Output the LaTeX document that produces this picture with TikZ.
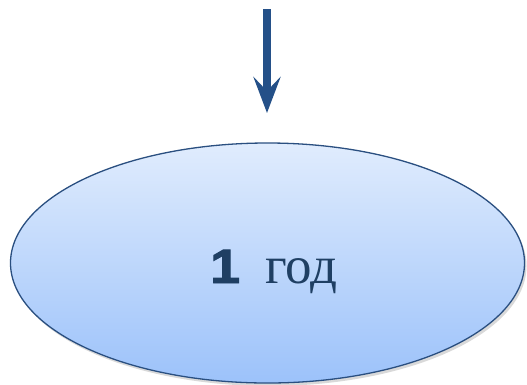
\documentclass[tikz,border=0pt]{standalone}
\usepackage{fontspec}
\setmainfont{Liberation Serif}
\newfontfamily\numfont[FakeBold=2]{Liberation Sans Bold}
\usetikzlibrary{shapes.geometric,arrows.meta,shadows}
\definecolor{arrowblue}{HTML}{245088}
\definecolor{edgeblue}{HTML}{2A4F80}
\definecolor{topfill}{HTML}{E0ECFD}
\definecolor{botfill}{HTML}{9CC2FA}
\definecolor{textblue}{HTML}{1F3F63}
\tikzset{
  oval/.style={ellipse, draw=edgeblue, line width=1.3pt, top color=topfill, bottom color=botfill,
    minimum width=514pt, minimum height=240pt, inner sep=0pt,
    drop shadow={shadow xshift=2pt, shadow yshift=-3pt, opacity=0.25, fill=black!60}},
  downarrow/.style={draw=arrowblue, line width=8pt,
    -{Stealth[length=36pt,width=27pt,inset=14pt,fill=arrowblue]}},
  label/.style={text=textblue, inner sep=0pt, anchor=base west}
}
\begin{document}
\begin{tikzpicture}[x=1pt,y=-1pt]
\useasboundingbox (0,0) rectangle (527,384);
\node[oval] (e) at (267.5,263) {};
\node[label] (num) at (210,283) {\numfont\fontsize{48}{48}\selectfont\scalebox{1.12}[1]{1}};
\node[label] (word) at (265,283) {\fontsize{53}{53}\selectfont год};
\coordinate (s) at (267,9);
\coordinate (t) at (267,113);
\draw[downarrow] (s) -- (t);
\end{tikzpicture}
\end{document}
